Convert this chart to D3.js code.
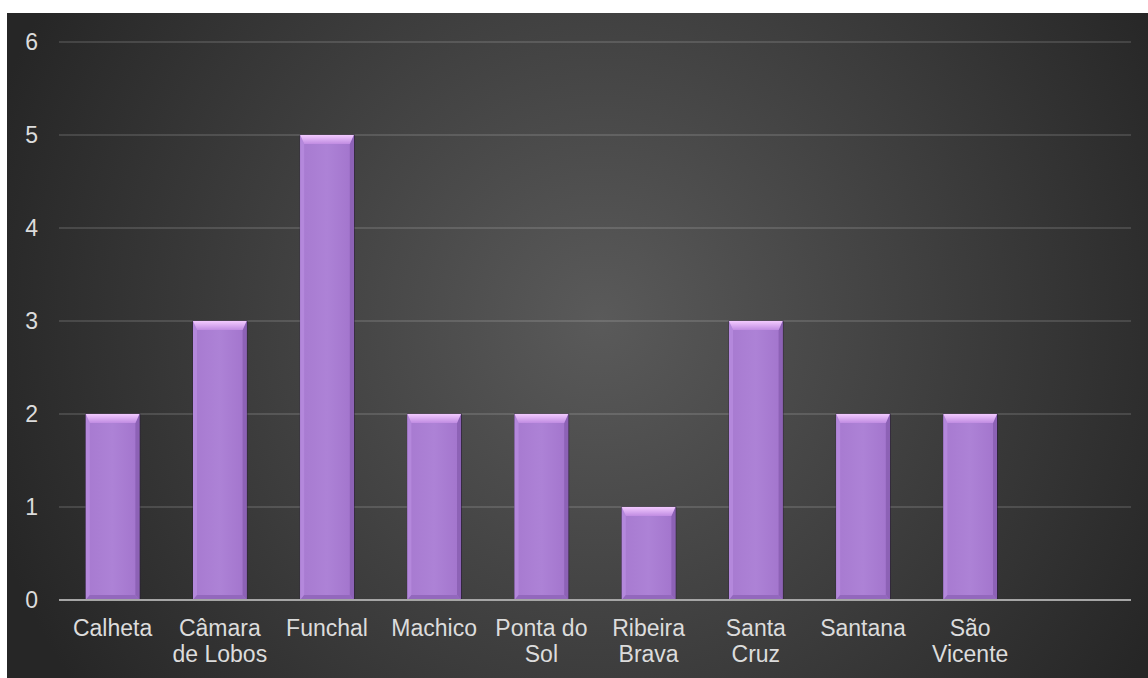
<!DOCTYPE html>
<html>
<head>
<meta charset="utf-8">
<script src="https://cdn.jsdelivr.net/npm/d3@7"></script>
<style>
  html, body { margin: 0; padding: 0; background: #ffffff; }
  svg { display: block; }
  text { font-family: "Liberation Sans", Arial, sans-serif; }
</style>
</head>
<body>
<svg id="chart" width="1148" height="678"></svg>
<script>
// ---- data ----
const categories = ["Calheta", "Câmara de Lobos", "Funchal", "Machico", "Ponta do Sol", "Ribeira Brava", "Santa Cruz", "Santana", "São Vicente", ""];
const categoryLines = [["Calheta"], ["Câmara", "de Lobos"], ["Funchal"], ["Machico"], ["Ponta do", "Sol"], ["Ribeira", "Brava"], ["Santa", "Cruz"], ["Santana"], ["São", "Vicente"], [""]];
const values = [2, 3, 5, 2, 2, 1, 3, 2, 2, null];
const yTicks = [0, 1, 2, 3, 4, 5, 6];

// ---- layout ----
const W = 1148, H = 678;
const bg = { x: 7, y: 13, w: W - 7, h: H - 13 };
const plot = { left: 59, right: 1131, top: 42, bottom: 600 };

const svg = d3.select("#chart");
const defs = svg.append("defs");

const rg = defs.append("radialGradient").attr("id", "bgGrad")
  .attr("gradientUnits", "userSpaceOnUse")
  .attr("cx", 600).attr("cy", 320).attr("r", 640);
rg.append("stop").attr("offset", "0%").attr("stop-color", "#5a5a5a");
rg.append("stop").attr("offset", "100%").attr("stop-color", "#262626");

const topG = defs.append("linearGradient").attr("id", "topBevel").attr("x1", 0).attr("y1", 0).attr("x2", 0).attr("y2", 1);
topG.append("stop").attr("offset", "0%").attr("stop-color", "#f3caff");
topG.append("stop").attr("offset", "100%").attr("stop-color", "#c08ce2");

const bodyG = defs.append("linearGradient").attr("id", "bodyGrad").attr("x1", 0).attr("y1", 0).attr("x2", 1).attr("y2", 0);
bodyG.append("stop").attr("offset", "0%").attr("stop-color", "#a77ad0");
bodyG.append("stop").attr("offset", "50%").attr("stop-color", "#ad82d6");
bodyG.append("stop").attr("offset", "100%").attr("stop-color", "#a274cc");

svg.append("rect").attr("x", bg.x).attr("y", bg.y).attr("width", bg.w).attr("height", bg.h)
  .attr("fill", "url(#bgGrad)");

const x = d3.scaleBand().domain(d3.range(categories.length))
  .range([plot.left, plot.right]).paddingInner(0.5).paddingOuter(0.25);
const y = d3.scaleLinear().domain([0, 6]).range([plot.bottom, plot.top]);

// gridlines
svg.append("g").selectAll("line").data(yTicks.filter(d => d > 0)).join("line")
  .attr("x1", plot.left).attr("x2", plot.right)
  .attr("y1", d => y(d)).attr("y2", d => y(d))
  .attr("stroke", "rgba(255,255,255,0.13)").attr("stroke-width", 2);

// y tick labels
svg.append("g").selectAll("text").data(yTicks).join("text")
  .attr("x", 38).attr("y", d => y(d) + 8)
  .attr("text-anchor", "end").attr("font-size", 23).attr("fill", "#dcdcdc")
  .text(d => d);

// bars
const bevT = 9, bevS = 4, bevB = 5;
const barData = values.map((v, i) => ({ i, v })).filter(d => d.v != null);
const bars = svg.append("g").selectAll("g").data(barData).join("g");

bars.each(function(d) {
  const g = d3.select(this);
  const x0 = x(d.i), x1 = x(d.i) + x.bandwidth();
  const y0 = y(d.v), y1 = y(0);
  g.append("rect").attr("x", x0 - 0.5).attr("y", y0 - 0.5).attr("width", x1 - x0 + 1.5).attr("height", y1 - y0 + 0.5)
    .attr("fill", "rgba(40,20,60,0.55)");
  g.append("rect").attr("x", x0).attr("y", y0).attr("width", x1 - x0).attr("height", y1 - y0)
    .attr("fill", "url(#bodyGrad)");
  g.append("polygon").attr("points", [[x0, y0], [x0 + bevS, y0 + bevT], [x0 + bevS, y1 - bevB], [x0, y1]].join(" "))
    .attr("fill", "#b488dc");
  g.append("polygon").attr("points", [[x1, y0], [x1 - bevS, y0 + bevT], [x1 - bevS, y1 - bevB], [x1, y1]].join(" "))
    .attr("fill", "#8d62b6");
  g.append("polygon").attr("points", [[x0, y1], [x0 + bevS, y1 - bevB], [x1 - bevS, y1 - bevB], [x1, y1]].join(" "))
    .attr("fill", "#9368bd");
  g.append("polygon").attr("points", [[x0, y0], [x1, y0], [x1 - bevS, y0 + bevT], [x0 + bevS, y0 + bevT]].join(" "))
    .attr("fill", "url(#topBevel)");
});

// x axis line
svg.append("line").attr("x1", plot.left).attr("x2", plot.right)
  .attr("y1", plot.bottom).attr("y2", plot.bottom)
  .attr("stroke", "#a6a6a6").attr("stroke-width", 2);

// category labels
const lab = svg.append("g").selectAll("text").data(categoryLines).join("text")
  .attr("text-anchor", "middle").attr("font-size", 23).attr("fill", "#dcdcdc")
  .attr("transform", (d, i) => `translate(${x(i) + x.bandwidth() / 2},636)`);
lab.selectAll("tspan").data(d => d).join("tspan")
  .attr("x", 0).attr("y", (d, j) => j * 25.5)
  .text(d => d);
</script>
</body>
</html>
